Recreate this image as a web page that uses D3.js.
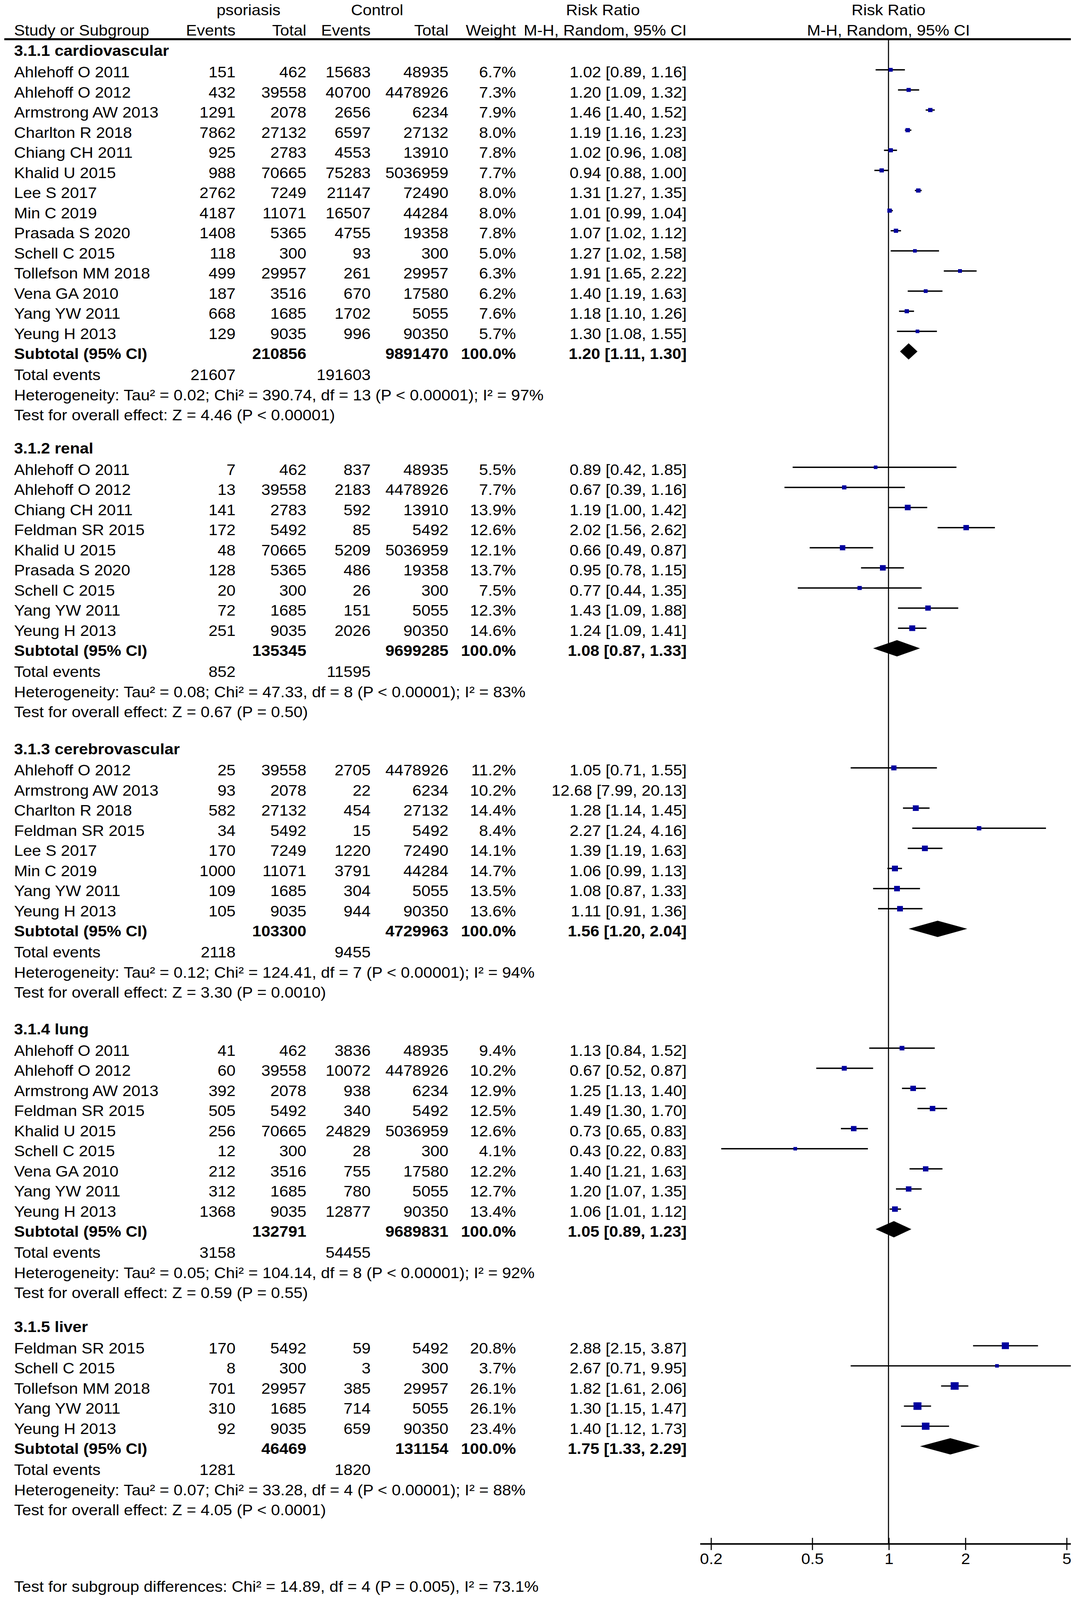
<!DOCTYPE html>
<html>
<head>
<meta charset="utf-8">
<script src="https://cdn.jsdelivr.net/npm/d3@7"></script>
<style>
  html, body { margin: 0; padding: 0; background: #fff; overflow: hidden; }
  #chart svg { display: block; width: 100vw; height: 100vh; }
  svg text { font-family: "Liberation Sans", Arial, sans-serif; font-size: 15px; fill: #000; }
  .b { font-weight: bold; }
</style>
</head>
<body>
<div id="chart"></div>
<script>
// study, psoriasis events, psoriasis total, control events, control total, weight %, RR, lower, upper
var cardiovascular = [
    ['Ahlehoff O 2011', 151, 462, 15683, 48935, 6.7, 1.02, 0.89, 1.16],
    ['Ahlehoff O 2012', 432, 39558, 40700, 4478926, 7.3, 1.20, 1.09, 1.32],
    ['Armstrong AW 2013', 1291, 2078, 2656, 6234, 7.9, 1.46, 1.40, 1.52],
    ['Charlton R 2018', 7862, 27132, 6597, 27132, 8.0, 1.19, 1.16, 1.23],
    ['Chiang CH 2011', 925, 2783, 4553, 13910, 7.8, 1.02, 0.96, 1.08],
    ['Khalid U 2015', 988, 70665, 75283, 5036959, 7.7, 0.94, 0.88, 1.00],
    ['Lee S 2017', 2762, 7249, 21147, 72490, 8.0, 1.31, 1.27, 1.35],
    ['Min C 2019', 4187, 11071, 16507, 44284, 8.0, 1.01, 0.99, 1.04],
    ['Prasada S 2020', 1408, 5365, 4755, 19358, 7.8, 1.07, 1.02, 1.12],
    ['Schell C 2015', 118, 300, 93, 300, 5.0, 1.27, 1.02, 1.58],
    ['Tollefson MM 2018', 499, 29957, 261, 29957, 6.3, 1.91, 1.65, 2.22],
    ['Vena GA 2010', 187, 3516, 670, 17580, 6.2, 1.40, 1.19, 1.63],
    ['Yang YW 2011', 668, 1685, 1702, 5055, 7.6, 1.18, 1.10, 1.26],
    ['Yeung H 2013', 129, 9035, 996, 90350, 5.7, 1.30, 1.08, 1.55]
];
var renal = [
    ['Ahlehoff O 2011', 7, 462, 837, 48935, 5.5, 0.89, 0.42, 1.85],
    ['Ahlehoff O 2012', 13, 39558, 2183, 4478926, 7.7, 0.67, 0.39, 1.16],
    ['Chiang CH 2011', 141, 2783, 592, 13910, 13.9, 1.19, 1.00, 1.42],
    ['Feldman SR 2015', 172, 5492, 85, 5492, 12.6, 2.02, 1.56, 2.62],
    ['Khalid U 2015', 48, 70665, 5209, 5036959, 12.1, 0.66, 0.49, 0.87],
    ['Prasada S 2020', 128, 5365, 486, 19358, 13.7, 0.95, 0.78, 1.15],
    ['Schell C 2015', 20, 300, 26, 300, 7.5, 0.77, 0.44, 1.35],
    ['Yang YW 2011', 72, 1685, 151, 5055, 12.3, 1.43, 1.09, 1.88],
    ['Yeung H 2013', 251, 9035, 2026, 90350, 14.6, 1.24, 1.09, 1.41]
];
var cerebrovascular = [
    ['Ahlehoff O 2012', 25, 39558, 2705, 4478926, 11.2, 1.05, 0.71, 1.55],
    ['Armstrong AW 2013', 93, 2078, 22, 6234, 10.2, 12.68, 7.99, 20.13],
    ['Charlton R 2018', 582, 27132, 454, 27132, 14.4, 1.28, 1.14, 1.45],
    ['Feldman SR 2015', 34, 5492, 15, 5492, 8.4, 2.27, 1.24, 4.16],
    ['Lee S 2017', 170, 7249, 1220, 72490, 14.1, 1.39, 1.19, 1.63],
    ['Min C 2019', 1000, 11071, 3791, 44284, 14.7, 1.06, 0.99, 1.13],
    ['Yang YW 2011', 109, 1685, 304, 5055, 13.5, 1.08, 0.87, 1.33],
    ['Yeung H 2013', 105, 9035, 944, 90350, 13.6, 1.11, 0.91, 1.36]
];
var lung = [
    ['Ahlehoff O 2011', 41, 462, 3836, 48935, 9.4, 1.13, 0.84, 1.52],
    ['Ahlehoff O 2012', 60, 39558, 10072, 4478926, 10.2, 0.67, 0.52, 0.87],
    ['Armstrong AW 2013', 392, 2078, 938, 6234, 12.9, 1.25, 1.13, 1.40],
    ['Feldman SR 2015', 505, 5492, 340, 5492, 12.5, 1.49, 1.30, 1.70],
    ['Khalid U 2015', 256, 70665, 24829, 5036959, 12.6, 0.73, 0.65, 0.83],
    ['Schell C 2015', 12, 300, 28, 300, 4.1, 0.43, 0.22, 0.83],
    ['Vena GA 2010', 212, 3516, 755, 17580, 12.2, 1.40, 1.21, 1.63],
    ['Yang YW 2011', 312, 1685, 780, 5055, 12.7, 1.20, 1.07, 1.35],
    ['Yeung H 2013', 1368, 9035, 12877, 90350, 13.4, 1.06, 1.01, 1.12]
];
var liver = [
    ['Feldman SR 2015', 170, 5492, 59, 5492, 20.8, 2.88, 2.15, 3.87],
    ['Schell C 2015', 8, 300, 3, 300, 3.7, 2.67, 0.71, 9.95],
    ['Tollefson MM 2018', 701, 29957, 385, 29957, 26.1, 1.82, 1.61, 2.06],
    ['Yang YW 2011', 310, 1685, 714, 5055, 26.1, 1.30, 1.15, 1.47],
    ['Yeung H 2013', 92, 9035, 659, 90350, 23.4, 1.40, 1.12, 1.73]
];

var subgroupNames = ['3.1.1 cardiovascular', '3.1.2 renal', '3.1.3 cerebrovascular', '3.1.4 lung', '3.1.5 liver'];
var subgroupStudies = [cardiovascular, renal, cerebrovascular, lung, liver];
// psoriasis total, control total, RR, lower, upper
var subtotals = [
    [210856, 9891470, 1.20, 1.11, 1.30],
    [135345, 9699285, 1.08, 0.87, 1.33],
    [103300, 4729963, 1.56, 1.20, 2.04],
    [132791, 9689831, 1.05, 0.89, 1.23],
    [46469, 131154, 1.75, 1.33, 2.29]
];
// psoriasis events, control events
var totalEvents = [[21607, 191603], [852, 11595], [2118, 9455], [3158, 54455], [1281, 1820]];
var heterogeneity = [
    'Heterogeneity: Tau² = 0.02; Chi² = 390.74, df = 13 (P < 0.00001); I² = 97%',
    'Heterogeneity: Tau² = 0.08; Chi² = 47.33, df = 8 (P < 0.00001); I² = 83%',
    'Heterogeneity: Tau² = 0.12; Chi² = 124.41, df = 7 (P < 0.00001); I² = 94%',
    'Heterogeneity: Tau² = 0.05; Chi² = 104.14, df = 8 (P < 0.00001); I² = 92%',
    'Heterogeneity: Tau² = 0.07; Chi² = 33.28, df = 4 (P < 0.00001); I² = 88%'
];
var overallEffect = [
    'Test for overall effect: Z = 4.46 (P < 0.00001)',
    'Test for overall effect: Z = 0.67 (P = 0.50)',
    'Test for overall effect: Z = 3.30 (P = 0.0010)',
    'Test for overall effect: Z = 0.59 (P = 0.55)',
    'Test for overall effect: Z = 4.05 (P < 0.0001)'
];
var axisTicks = [0.2, 0.5, 1, 2, 5];
var subgroupTest = 'Test for subgroup differences: Chi² = 14.89, df = 4 (P = 0.005), I² = 73.1%';

// layout (viewBox units)
var W = 993, H = 1570;
var rowStep = 19.74;
var sectionTop = [50, 440, 735, 1010, 1302];
var axisY = 1515;
var col = {left: 13, evP: 218, totP: 283.5, evC: 343, totC: 415, weight: 477.5, rr: 635.5};
var plotLeft = 648, plotRight = 991;

var svg = d3.select('#chart').append('svg')
    .attr('viewBox', '0 0 ' + W + ' ' + H)
    .attr('preserveAspectRatio', 'none');

var x = d3.scaleLog().domain([0.2, 5]).range([657.7, 986.8]);
var f2 = d3.format('.2f');
var f1 = d3.format('.1f');

function rrText(rr, lo, hi) {
    return f2(rr) + ' [' + f2(lo) + ', ' + f2(hi) + ']';
}

function txt(g, xPos, y, s, anchor, cls) {
    g.append('text')
        .attr('x', xPos)
        .attr('y', y + 5)
        .attr('text-anchor', anchor || 'start')
        .attr('class', cls || null)
        .text(s);
}

// header
var head = svg.append('g');
txt(head, 230, 10, 'psoriasis', 'middle');
txt(head, 349, 10, 'Control', 'middle');
txt(head, 558, 10, 'Risk Ratio', 'middle');
txt(head, x(1), 10, 'Risk Ratio', 'middle');
txt(head, col.left, 30, 'Study or Subgroup');
txt(head, col.evP, 30, 'Events', 'end');
txt(head, col.totP, 30, 'Total', 'end');
txt(head, col.evC, 30, 'Events', 'end');
txt(head, col.totC, 30, 'Total', 'end');
txt(head, col.weight, 30, 'Weight', 'end');
txt(head, col.rr, 30, 'M-H, Random, 95% CI', 'end');
txt(head, x(1), 30, 'M-H, Random, 95% CI', 'middle');

svg.append('line')
    .attr('x1', 4).attr('x2', plotRight)
    .attr('y1', 38.5).attr('y2', 38.5)
    .attr('stroke', '#000').attr('stroke-width', 2);

// line of no effect
svg.append('line')
    .attr('x1', x(1)).attr('x2', x(1))
    .attr('y1', 38.5).attr('y2', axisY)
    .attr('stroke', '#000').attr('stroke-width', 1);

svg.append('clipPath').attr('id', 'plotclip')
    .append('rect')
    .attr('x', plotLeft).attr('y', 0)
    .attr('width', plotRight - plotLeft).attr('height', H);

var table = svg.append('g');
var plot = svg.append('g').attr('clip-path', 'url(#plotclip)');
var markOffset = -2.5;

function side(w) { return Math.max(3.4, 1.45 * Math.sqrt(w)); }

subgroupStudies.forEach(function(studies, s) {
    var y0 = sectionTop[s];
    txt(table, col.left, y0, subgroupNames[s], 'start', 'b');

    var rows = studies.map(function(d, i) {
        return {d: d, y: y0 + 21 + i * rowStep};
    });

    rows.forEach(function(r) {
        var d = r.d;
        txt(table, col.left, r.y, d[0]);
        txt(table, col.evP, r.y, d[1], 'end');
        txt(table, col.totP, r.y, d[2], 'end');
        txt(table, col.evC, r.y, d[3], 'end');
        txt(table, col.totC, r.y, d[4], 'end');
        txt(table, col.weight, r.y, f1(d[5]) + '%', 'end');
        txt(table, col.rr, r.y, rrText(d[6], d[7], d[8]), 'end');
    });

    plot.selectAll('line.ci' + s)
        .data(rows)
        .enter()
        .append('line')
            .attr('x1', function(r) { return x(r.d[7]); })
            .attr('x2', function(r) { return x(r.d[8]); })
            .attr('y1', function(r) { return r.y + markOffset; })
            .attr('y2', function(r) { return r.y + markOffset; })
            .attr('stroke', '#000')
            .attr('stroke-width', 1.3);

    plot.selectAll('rect.sq' + s)
        .data(rows)
        .enter()
        .append('rect')
            .attr('x', function(r) { return x(r.d[6]) - side(r.d[5]) / 2; })
            .attr('y', function(r) { return r.y + markOffset - side(r.d[5]) / 2; })
            .attr('width', function(r) { return side(r.d[5]); })
            .attr('height', function(r) { return side(r.d[5]); })
            .attr('fill', '#00009e');

    var ySub = y0 + 21 + studies.length * rowStep;
    var st = subtotals[s];
    txt(table, col.left, ySub, 'Subtotal (95% CI)', 'start', 'b');
    txt(table, col.totP, ySub, st[0], 'end', 'b');
    txt(table, col.totC, ySub, st[1], 'end', 'b');
    txt(table, col.weight, ySub, '100.0%', 'end', 'b');
    txt(table, col.rr, ySub, rrText(st[2], st[3], st[4]), 'end', 'b');

    var yd = ySub + markOffset;
    plot.append('path')
        .datum(st)
        .attr('d', function(v) {
            return 'M' + x(v[3]) + ',' + yd +
                'L' + x(v[2]) + ',' + (yd - 8) +
                'L' + x(v[4]) + ',' + yd +
                'L' + x(v[2]) + ',' + (yd + 8) + 'Z';
        })
        .attr('fill', '#000');

    var yTot = ySub + rowStep + 1;
    txt(table, col.left, yTot, 'Total events');
    txt(table, col.evP, yTot, totalEvents[s][0], 'end');
    txt(table, col.evC, yTot, totalEvents[s][1], 'end');
    txt(table, col.left, yTot + rowStep, heterogeneity[s]);
    txt(table, col.left, yTot + 2 * rowStep, overallEffect[s]);
});

// axis
var axis = svg.append('g')
    .attr('transform', 'translate(0,' + axisY + ')')
    .call(d3.axisBottom(x).tickValues(axisTicks).tickSize(6).tickFormat(d3.format('')));
axis.select('.domain').remove();
axis.insert('line', ':first-child')
    .attr('x1', plotLeft).attr('x2', plotRight)
    .attr('stroke', '#000').attr('stroke-width', 1.5);
axis.selectAll('.tick line')
    .attr('y1', -6).attr('y2', 6)
    .attr('stroke', '#000').attr('stroke-width', 1);
axis.selectAll('.tick text')
    .attr('y', 9)
    .attr('dy', '0.71em')
    .style('font-family', '"Liberation Sans", Arial, sans-serif')
    .style('font-size', '15px');

txt(svg, col.left, 1557, subgroupTest);
</script>
</body>
</html>
